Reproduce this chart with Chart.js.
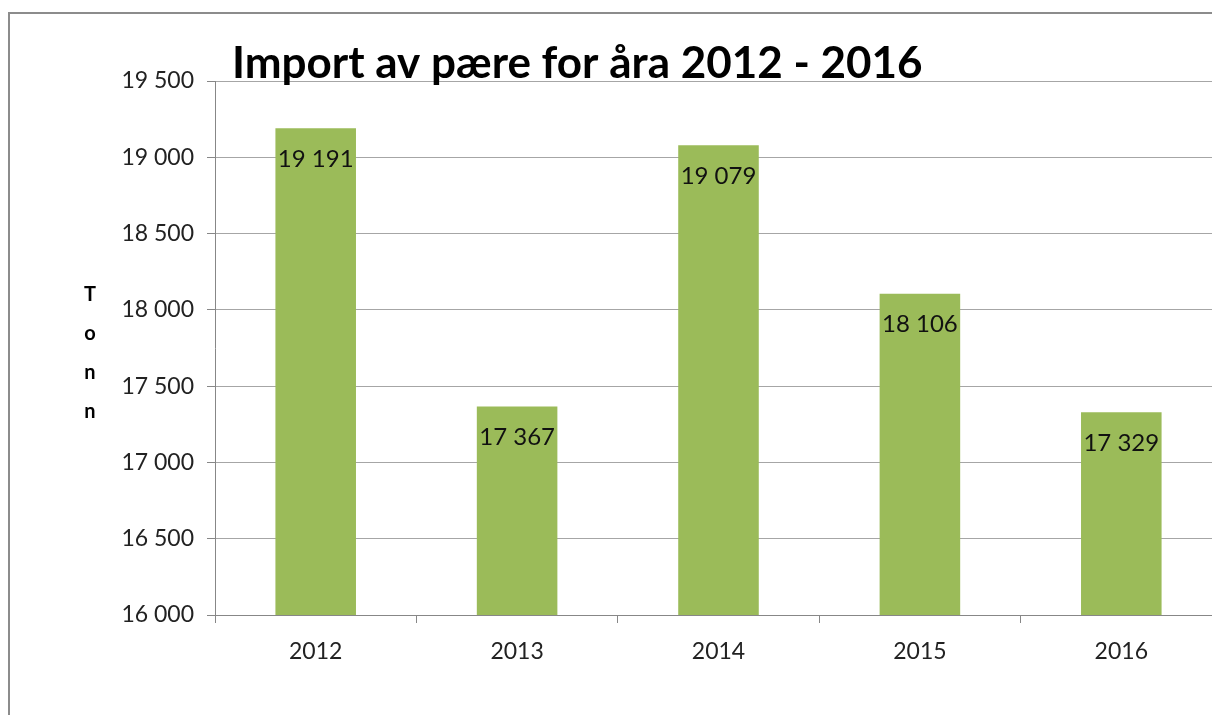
<!DOCTYPE html>
<html>
<head>
<meta charset="utf-8">
<script src="https://cdn.jsdelivr.net/npm/chart.js"></script>
<style>
  html, body { margin: 0; padding: 0; background: #fff; overflow: hidden; }
  #frame { position: absolute; left: 8px; top: 12px; width: 1400px; height: 900px; border: 2px solid #8c8c8c; }
  #c { position: absolute; left: 0; top: 0; }
</style>
</head>
<body>
<div id="frame"></div>
<canvas id="c" width="1240" height="715"></canvas>
<script>
const years = ["2012", "2013", "2014", "2015", "2016"];
const tonn = [19191, 17367, 19079, 18106, 17329];
const yMin = 16000;
const yMax = 19500;
const yStep = 500;
const chartTitle = "Import av pære for åra 2012 - 2016";
const axisTitle = ["T", "o", "n", "n"];

const FONT = "Lato, 'Open Sans', sans-serif";

function spaced(n) {
  return String(n).replace(/\B(?=(\d{3})+(?!\d))/g, " ");
}

// value labels just inside the top of each bar
const barLabels = {
  id: "barLabels",
  afterDatasetsDraw(chart) {
    const ctx = chart.ctx;
    const meta = chart.getDatasetMeta(0);
    ctx.save();
    ctx.font = "24px " + FONT;
    ctx.fillStyle = "#111";
    ctx.textAlign = "center";
    ctx.textBaseline = "middle";
    meta.data.forEach((bar, i) => {
      ctx.fillText(spaced(tonn[i]), bar.x, bar.y + 31);
    });
    ctx.restore();
  }
};

// title and stacked y axis title
const extras = {
  id: "extras",
  afterDraw(chart) {
    const ctx = chart.ctx;
    const area = chart.chartArea;
    ctx.save();
    ctx.fillStyle = "#000";
    ctx.font = "bold 44px " + FONT;
    ctx.textAlign = "left";
    ctx.textBaseline = "alphabetic";
    ctx.fillText(chartTitle, area.left + 17, area.top - 3);

    ctx.font = "bold 20px " + FONT;
    ctx.textAlign = "center";
    ctx.textBaseline = "middle";
    axisTitle.forEach((ch, i) => {
      ctx.fillText(ch, 90, 295 + i * 39);
    });
    ctx.restore();
  }
};

new Chart(document.getElementById("c"), {
  type: "bar",
  data: {
    labels: years,
    datasets: [{
      data: tonn,
      backgroundColor: "#9bbb59",
      borderWidth: 0,
      barPercentage: 0.4,
      categoryPercentage: 1.0
    }]
  },
  options: {
    responsive: false,
    animation: false,
    layout: { padding: { top: 81, right: 18, bottom: 0, left: 0 } },
    plugins: {
      legend: { display: false },
      tooltip: { enabled: false }
    },
    scales: {
      x: {
        afterFit(scale) { scale.height = 100; },
        grid: {
          offset: true,
          drawOnChartArea: false,
          drawTicks: true,
          tickLength: 8,
          color: "#878787"
        },
        border: { color: "#878787", width: 1 },
        ticks: {
          color: "#222",
          font: { family: FONT, size: 23 },
          padding: 15
        }
      },
      y: {
        min: yMin,
        max: yMax,
        afterFit(scale) { scale.width = 215; },
        grid: {
          color: "#a6a6a6",
          tickLength: 8,
          tickColor: "#878787"
        },
        border: { color: "#878787", width: 1 },
        ticks: {
          stepSize: yStep,
          color: "#222",
          font: { family: FONT, size: 23 },
          padding: 13,
          callback: (v) => spaced(v)
        }
      }
    }
  },
  plugins: [barLabels, extras]
});
</script>
</body>
</html>
